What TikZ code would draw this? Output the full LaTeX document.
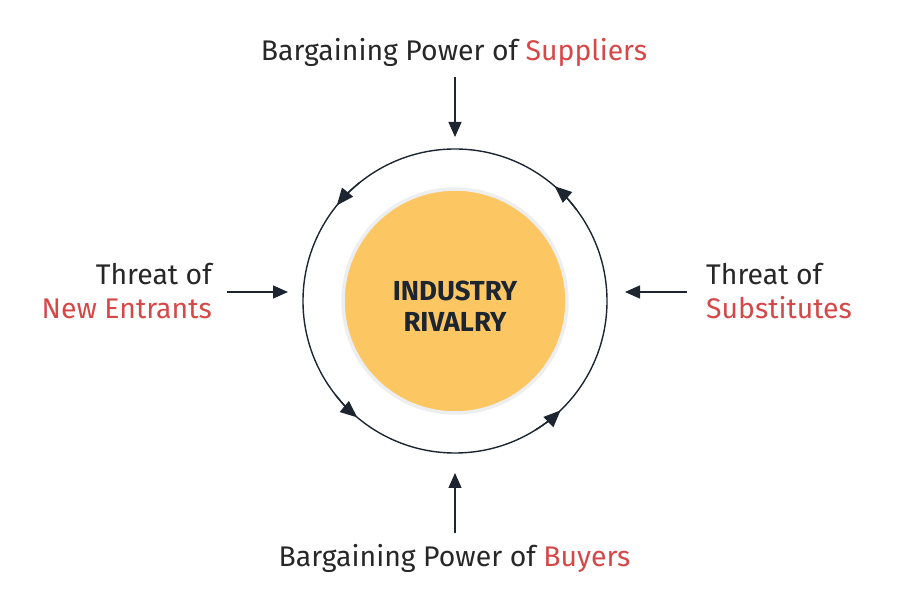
\documentclass[tikz,border=0pt]{standalone}
\usepackage{fontspec}
\setmainfont{Fira Sans}
\usetikzlibrary{arrows.meta}
\definecolor{ink}{HTML}{1C2530}
\definecolor{txt}{HTML}{272727}
\definecolor{accent}{HTML}{D64848}
\definecolor{gold}{HTML}{FCC763}
\definecolor{rim}{HTML}{EDEEF0}
\begin{document}
\begin{tikzpicture}[x=1pt,y=1pt,
  lbl/.style={font=\fontsize{28.4}{34}\selectfont, text=txt, inner sep=0pt},
  push/.style={draw=ink, line width=1.4pt, -{Triangle[length=15pt,width=13pt]}},
  cyc/.style={draw=ink, line width=1.4pt, -{Triangle[length=17pt,width=14pt]}}]
\useasboundingbox (0,0) rectangle (900,613);
\coordinate (c) at (455,312);
% central disc and ring
\node[circle, minimum size=224pt, fill=gold, draw=rim, line width=3.5pt, inner sep=0pt] (core) at (c) {};
\node[font=\bfseries\fontsize{27.5}{31}\selectfont, text=ink, align=center, inner sep=0pt] (title) at (455,307) {INDUSTRY\\RIVALRY};
\node[circle, minimum size=304pt, draw=ink, line width=1.4pt, inner sep=0pt] (ring) at (c) {};
% cycle arrowheads on the ring
\draw[cyc] ([shift={(129:152)}]c) arc[start angle=129, end angle=141, radius=152];
\draw[cyc] ([shift={(37:152)}]c) arc[start angle=37, end angle=49, radius=152];
\draw[cyc] ([shift={(218:152)}]c) arc[start angle=218, end angle=230, radius=152];
\draw[cyc] ([shift={(302:152)}]c) arc[start angle=302, end angle=314, radius=152];
% labels
\node[lbl, anchor=base] (sup) at (454,552) {Bargaining Power of \textcolor{accent}{Suppliers}};
\node[lbl, anchor=base] (buy) at (454.5,46) {Bargaining Power of \textcolor{accent}{Buyers}};
\node[lbl, anchor=base east] (entA) at (212,328) {Threat of};
\node[lbl, anchor=base east, text=accent] (entB) at (212,294) {New Entrants};
\node[lbl, anchor=base west] (subA) at (706,328) {Threat of};
\node[lbl, anchor=base west, text=accent] (subB) at (706,294) {Substitutes};
% force arrows
\coordinate (supS) at (455,536); \coordinate (supE) at (455,476);
\coordinate (buyS) at (455,80);  \coordinate (buyE) at (455,140);
\coordinate (entS) at (227,321); \coordinate (entE) at (288,321);
\coordinate (subS) at (687,321); \coordinate (subE) at (625,321);
\draw[push] (supS) -- (supE);
\draw[push] (buyS) -- (buyE);
\draw[push] (entS) -- (entE);
\draw[push] (subS) -- (subE);
\end{tikzpicture}
\end{document}
